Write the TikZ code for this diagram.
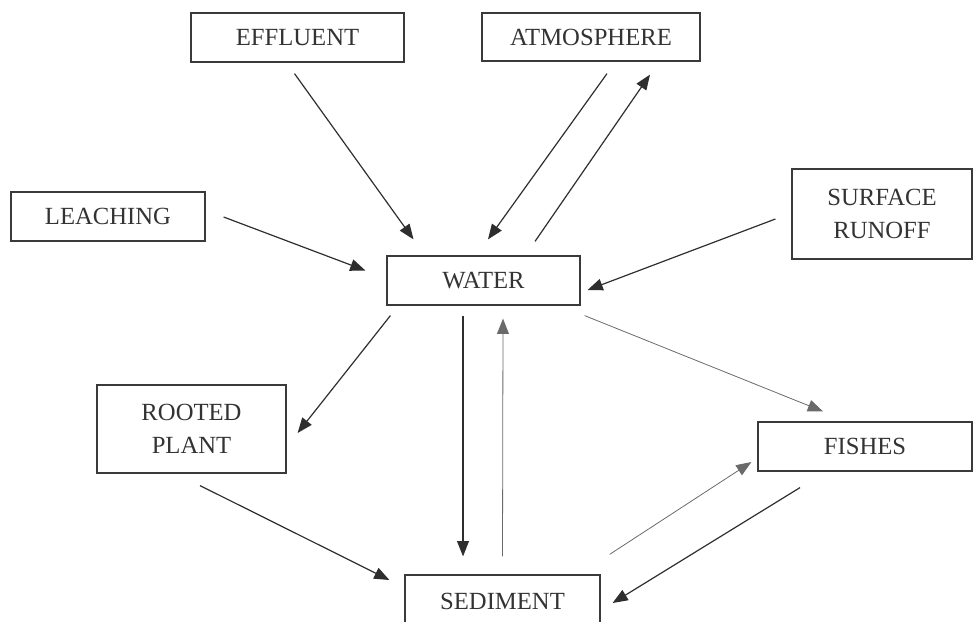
\documentclass[tikz,border=0pt]{standalone}
\usepackage{fontspec}
\setmainfont{Liberation Serif}
\usepackage{tikz}
\usetikzlibrary{arrows.meta,calc}
\definecolor{cycedge}{HTML}{3A3A3A}
\definecolor{cyclink}{HTML}{2E2E2E}
\definecolor{cycthin}{HTML}{6A6A6A}
\definecolor{cyctext}{HTML}{333333}
\tikzset{
  poolbox/.style={draw=cycedge,line width=0.9pt,fill=white,align=center,inner sep=0pt,
                  text=cyctext,font=\fontsize{18.5}{24.5}\selectfont},
  flow/.style={-{Triangle[length=4mm,width=3.1mm]},line width=0.9pt,draw=cyclink},
  thinflow/.style={-{Triangle[length=4mm,width=3.1mm]},line width=0.6pt,draw=cycthin}
}

\begin{document}
\begin{tikzpicture}[x=0.75pt,y=-0.75pt]
    \useasboundingbox (0,0) rectangle (973,621);

    \node[poolbox,minimum width=159.75pt,minimum height=36.75pt] (effluent) at (297.5,37.5) {EFFLUENT};
    \node[poolbox,minimum width=163.5pt,minimum height=36pt] (atmos) at (591,37) {ATMOSPHERE};
    \node[poolbox,minimum width=145.5pt,minimum height=36.75pt] (leaching) at (108,216.5) {LEACHING};
    \node[poolbox,minimum width=135pt,minimum height=67.5pt] (runoff) at (882,214) {SURFACE\\RUNOFF};
    \node[poolbox,minimum width=144.75pt,minimum height=36.75pt] (water) at (483.5,280.5) {WATER};
    \node[poolbox,minimum width=141.75pt,minimum height=66pt] (rooted) at (191.5,429) {ROOTED\\PLANT};
    \node[poolbox,minimum width=160.5pt,minimum height=36.75pt] (fishes) at (865,446.5) {FISHES};
    \node[poolbox,minimum width=146.25pt,minimum height=39pt] (sediment) at (502.5,601) {SEDIMENT};

    % inputs to the water column
    \draw[flow] ($(effluent.south)+(-3,11)$) -- ($(water.north)+(-70,-16)$);
    \draw[flow] ($(atmos.south)+(16,12)$) -- ($(water.north)+(4.5,-16)$);
    \draw[flow] ($(water.north)+(51.5,-14)$) -- ($(atmos.south)+(59,13)$);
    \draw[flow] ($(leaching.east)+(18,0.5)$) -- ($(water.west)+(-21,-10)$);
    \draw[flow] ($(runoff.west)+(-16,5)$) -- ($(water.east)+(7,9.5)$);

    % water to plants, fish and sediment
    \draw[flow] ($(water.south west)+(4,10)$) -- ($(rooted.east)+(11,4)$);
    \draw[flow] ($(water.south)+(-20.5,10)$) -- ($(sediment.north)+(-39.5,-18)$);
    \draw[thinflow] ($(sediment.north)+(0,-18)$) -- ($(water.south)+(19.5,13)$);
    \draw[thinflow] ($(water.south east)+(4,10)$) -- ($(fishes.north)+(-42,-10)$);
    \draw[flow] ($(rooted.south)+(8.5,12)$) -- ($(sediment.west)+(-15,-21)$);
    \draw[thinflow] ($(sediment.north east)+(9,-20)$) -- ($(fishes.west)+(-6,15.5)$);
    \draw[flow] ($(fishes.south)+(-65,16)$) -- ($(sediment.east)+(12,2)$);
\end{tikzpicture}
\end{document}
